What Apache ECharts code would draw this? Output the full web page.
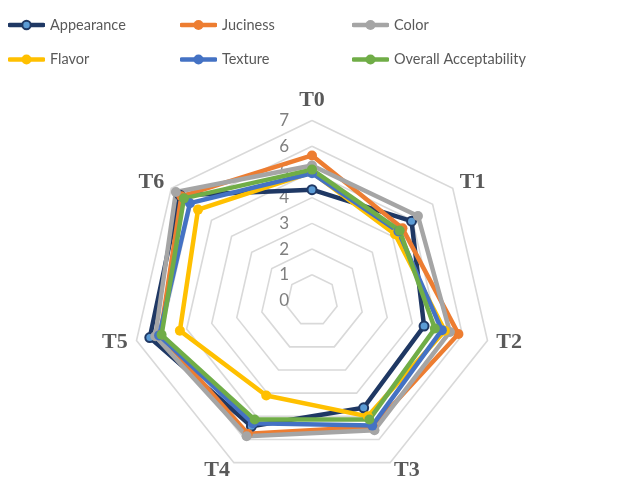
<!DOCTYPE html>
<html><head><meta charset="utf-8">
<script src="https://cdn.jsdelivr.net/npm/echarts@6/dist/echarts.min.js"></script>
<style>html,body{margin:0;padding:0;background:#fff}#c{width:621px;height:478px}</style>
</head><body><div id="c"></div>
<script>
const categories = ['T0', 'T1', 'T2', 'T3', 'T4', 'T5', 'T6'];
const seriesNames = ['Appearance', 'Juciness', 'Color', 'Flavor', 'Texture', 'Overall Acceptability'];
const appearance = [4.31, 4.95, 4.47, 4.63, 5.43, 6.47, 6.57];
const juciness   = [5.64, 4.50, 5.84, 5.45, 5.75, 6.05, 6.50];
const color      = [5.25, 5.27, 5.50, 5.60, 5.86, 6.25, 6.77];
const flavor     = [4.98, 4.13, 5.30, 5.00, 4.10, 5.27, 5.67];
const texture    = [4.95, 4.30, 5.18, 5.40, 5.30, 6.10, 6.07];
const overall    = [5.09, 4.36, 4.90, 5.14, 5.14, 6.00, 6.37];
const tickLabels = ['0', '1', '2', '3', '4', '5', '6', '7'];
const axisMin = 0, axisMax = 7;

const values = [appearance, juciness, color, flavor, texture, overall];
const lineColors = ['#1F3864', '#ED7D31', '#A5A5A5', '#FFC000', '#4472C4', '#70AD47'];
const markerFills = ['#5B9BD5', '#ED7D31', '#A5A5A5', '#FFC000', '#4472C4', '#70AD47'];

// ECharts radar goes counter-clockwise; reorder so categories run clockwise
const order = [0, 6, 5, 4, 3, 2, 1];

function icon(c, f) {
  const svg = '<svg xmlns="http://www.w3.org/2000/svg" width="37" height="12" viewBox="0 0 37 12">' +
    '<line x1="1.5" y1="6" x2="35.5" y2="6" stroke="' + c + '" stroke-width="4.5" stroke-linecap="round"/>' +
    '<circle cx="18.5" cy="6" r="' + (c === f ? 5 : 4.2) + '" fill="' + f + '" stroke="' + c + '" stroke-width="' + (c === f ? 0 : 2) + '"/></svg>';
  return 'image://data:image/svg+xml;charset=utf-8,' + encodeURIComponent(svg);
}

const indicator = order.map((k, i) => {
  const o = { name: categories[k], min: axisMin, max: axisMax };
  if (i === 0) {
    o.axisLabel = {
      show: true, color: '#7F7F7F', fontSize: 17, fontFamily: 'Lato', margin: 23,
      formatter: v => tickLabels[Math.round(v)]
    };
  }
  return o;
});

const legendTextStyle = { color: '#595959', fontSize: 14.5, fontFamily: 'Lato', lineHeight: 20 };
const legendCols = [[0, 3], [1, 4], [2, 5]];
const legendLefts = [8, 180, 352];

const option = {
  animation: false,
  backgroundColor: '#fff',
  legend: legendCols.map((col, ci) => ({
    orient: 'vertical',
    left: legendLefts[ci],
    top: 15,
    padding: 0,
    itemWidth: 37,
    itemHeight: 12,
    itemGap: 14.5,
    selectedMode: false,
    textStyle: legendTextStyle,
    data: col.map(si => ({ name: seriesNames[si], icon: icon(lineColors[si], markerFills[si]) }))
  })),
  radar: {
    center: [312, 300.5],
    radius: 180,
    startAngle: 90,
    splitNumber: 7,
    shape: 'polygon',
    indicator: indicator,
    nameGap: 9,
    axisName: { color: '#595959', fontSize: 22, fontWeight: 'bold', fontFamily: 'Liberation Serif' },
    axisLine: { show: false },
    axisTick: { show: false },
    axisLabel: { show: false },
    splitLine: { lineStyle: { color: '#D9D9D9', width: 1.6 } },
    splitArea: { show: false }
  },
  series: seriesNames.map((n, si) => ({
    type: 'radar',
    name: n,
    symbol: 'circle',
    symbolSize: si === 0 ? 9 : 10,
    lineStyle: { color: lineColors[si], width: 4.5 },
    itemStyle: si === 0
      ? { color: markerFills[si], borderColor: lineColors[si], borderWidth: 2 }
      : { color: markerFills[si] },
    data: [{ name: n, value: order.map(k => values[si][k]) }]
  }))
};

const chart = echarts.init(document.getElementById('c'), null, { renderer: 'canvas' });
chart.setOption(option);
</script>
</body></html>
